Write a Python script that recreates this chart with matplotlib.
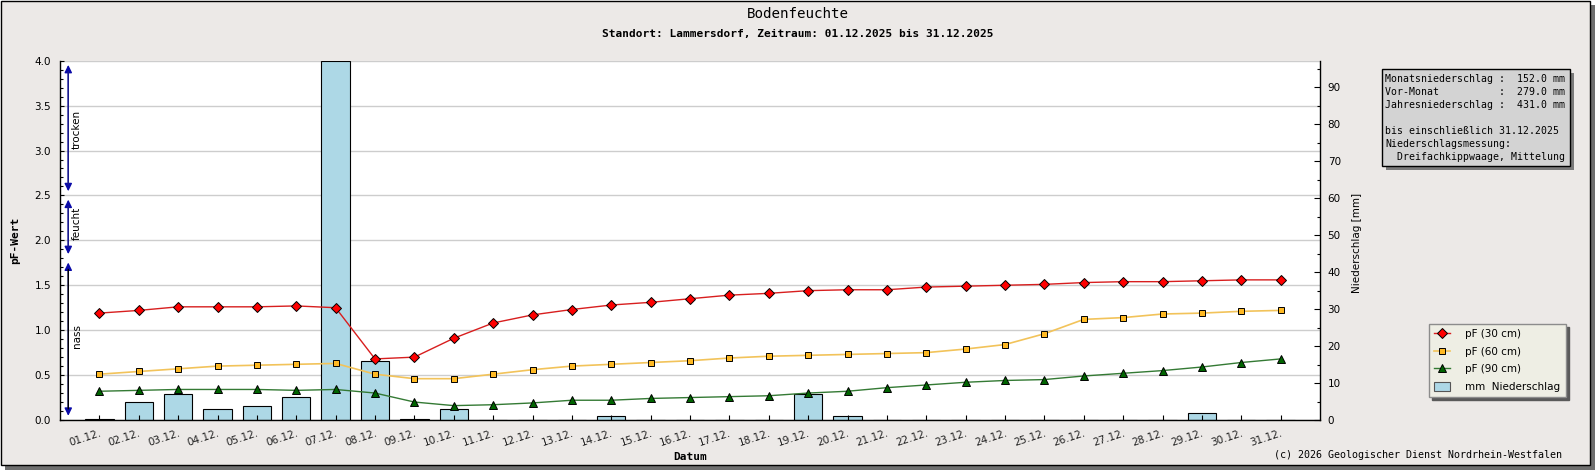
import matplotlib
matplotlib.use('Agg')
import matplotlib.pyplot as plt
import numpy as np
from matplotlib.patches import Rectangle
from matplotlib.ticker import MultipleLocator

# ---------------- data ----------------
dates = [f"{d:02d}.12." for d in range(1, 32)]
pf_30cm = [1.19, 1.22, 1.26, 1.26, 1.26, 1.27, 1.25, 0.68, 0.70, 0.91, 1.08, 1.17, 1.23, 1.28, 1.31, 1.35,
           1.39, 1.41, 1.44, 1.45, 1.45, 1.48, 1.49, 1.50, 1.51, 1.53, 1.54, 1.54, 1.55, 1.56, 1.56]
pf_60cm = [0.51, 0.54, 0.57, 0.60, 0.61, 0.62, 0.63, 0.51, 0.46, 0.46, 0.51, 0.56, 0.60, 0.62, 0.64, 0.66,
           0.69, 0.71, 0.72, 0.73, 0.74, 0.75, 0.79, 0.84, 0.96, 1.12, 1.14, 1.18, 1.19, 1.21, 1.22]
pf_90cm = [0.32, 0.33, 0.34, 0.34, 0.34, 0.33, 0.34, 0.30, 0.20, 0.16, 0.17, 0.19, 0.22, 0.22, 0.24, 0.25,
           0.26, 0.27, 0.30, 0.32, 0.36, 0.39, 0.42, 0.44, 0.45, 0.49, 0.52, 0.55, 0.59, 0.64, 0.68]
precip_mm = [0.3, 4.8, 7.0, 2.9, 3.7, 6.1, 97.1, 15.9, 0.2, 2.9, 0.0, 0.0, 0.0, 1.1, 0.0, 0.0,
             0.0, 0.0, 7.0, 1.0, 0.0, 0.0, 0.0, 0.0, 0.0, 0.0, 0.0, 0.0, 1.8, 0.0, 0.0]
series_labels = ['pF (30 cm)', 'pF (60 cm)', 'pF (90 cm)', 'mm  Niederschlag']
zone_names = ['trocken', 'feucht', 'nass']
zone_bounds = [(2.5, 4.0), (1.8, 2.5), (0.0, 1.8)]
zone_text_y = [3.23, 2.19, 0.93]
info_lines = ['Monatsniederschlag :  152.0 mm',
              'Vor-Monat          :  279.0 mm',
              'Jahresniederschlag :  431.0 mm',
              '',
              'bis einschließlich 31.12.2025',
              'Niederschlagsmessung:',
              '  Dreifachkippwaage, Mittelung']
title = 'Bodenfeuchte'
subtitle = 'Standort: Lammersdorf, Zeitraum: 01.12.2025 bis 31.12.2025'
copyright_txt = '(c) 2026 Geologischer Dienst Nordrhein-Westfalen'

# ---------------- layout ----------------
W, H = 1595, 470
BG = '#ece9e7'
MONO = 'DejaVu Sans Mono'
SANS = 'DejaVu Sans'

fig = plt.figure(figsize=(W / 100, H / 100), dpi=100)
fig.patch.set_facecolor('white')


def px_rect(x0, y0, x1, y1):
    return (x0 / W, 1 - y1 / H, (x1 - x0) / W, (y1 - y0) / H)


# outer frame with shadow
fig.add_artist(Rectangle((5 / W, 0), 1 - 5 / W, (H - 5) / H, transform=fig.transFigure,
                         facecolor='#6f6f6f', edgecolor='none', zorder=-10))
fig.add_artist(Rectangle((0.6 / W, 5 / H), 1589.4 / W, (H - 5.6) / H, transform=fig.transFigure,
                         facecolor=BG, edgecolor='black', lw=1.0, zorder=-9))

x = np.arange(len(dates))
rect = px_rect(60, 60.7, 1320, 420)

# grid layer
axg = fig.add_axes(rect, zorder=0)
axg.set_facecolor('white')
axg.set_xlim(-1, len(dates))
axg.set_ylim(0, 4)
axg.yaxis.set_major_locator(MultipleLocator(0.5))
axg.grid(axis='y', color='#cdcdcd', lw=1.0)
axg.tick_params(left=False, bottom=False, labelleft=False, labelbottom=False)
for s in axg.spines.values():
    s.set_visible(False)

# bar layer (right axis, mm)
axb = fig.add_axes(rect, zorder=1, sharex=axg)
axb.patch.set_visible(False)
bars = axb.bar(x, precip_mm, width=0.72, color='#add8e6', edgecolor='black', lw=0.8)
axb.set_ylim(0, 97.2)
axb.yaxis.tick_right()
axb.yaxis.set_major_locator(MultipleLocator(10))
axb.yaxis.set_minor_locator(MultipleLocator(5))
axb.tick_params(axis='y', which='major', direction='in', length=4, width=0.8, pad=5.5,
                labelsize=7.5, colors='black', right=True, left=False, labelright=True, labelleft=False)
axb.tick_params(axis='y', which='minor', direction='in', length=2.4, width=0.8, right=True, left=False)
axb.tick_params(axis='x', bottom=False, labelbottom=False)
for k, s in axb.spines.items():
    s.set_visible(k == 'right')
axb.spines['right'].set_linewidth(1.0)

# line layer (left axis, pF)
ax = fig.add_axes(rect, zorder=2, sharex=axg)
ax.patch.set_visible(False)
ax.set_ylim(0, 4)
l30, = ax.plot(x, pf_30cm, color='#d81e1e', lw=1.0, marker='D', ms=5.6, mfc='#ff0000',
               mec='black', mew=0.7, label=series_labels[0])
l60, = ax.plot(x, pf_60cm, color='#f2c35a', lw=1.2, marker='s', ms=5.0, mfc='#ffb923',
               mec='black', mew=0.7, label=series_labels[1])
l90, = ax.plot(x, pf_90cm, color='#347a34', lw=1.0, marker='^', ms=5.8, mfc='#006400',
               mec='black', mew=0.7, label=series_labels[2])
ax.yaxis.set_major_locator(MultipleLocator(0.5))
ax.yaxis.set_minor_locator(MultipleLocator(0.1))
ax.yaxis.set_major_formatter(matplotlib.ticker.FormatStrFormatter('%.1f'))
ax.tick_params(axis='y', which='major', direction='in', length=2.8, width=0.8, pad=6.5,
               labelsize=7.5, colors='black')
ax.tick_params(axis='y', which='minor', direction='in', length=2.0, width=0.8)
ax.set_xticks(x)
ax.set_xticklabels(dates, rotation=18, ha='right', rotation_mode='anchor', fontsize=7.5,
                   color='#222222')
ax.tick_params(axis='x', direction='in', length=3.6, width=0.8, pad=6)
for k, s in ax.spines.items():
    s.set_visible(k in ('left', 'bottom'))
    s.set_linewidth(1.0)
ax.set_xlim(-1, len(dates))

# moisture zones on left
zx = -0.79
for (lo, hi), name, ty in zip(zone_bounds, zone_names, zone_text_y):
    col = '#000000' if name == 'nass' else '#1b1b8a'
    ax.annotate('', xy=(zx, hi), xytext=(zx, lo),
                arrowprops=dict(arrowstyle='<|-|>,head_length=0.45,head_width=0.22',
                                color='#0a0aa8', lw=1.0, shrinkA=3, shrinkB=3))
    ax.annotate('', xy=(zx, hi), xytext=(zx, lo),
                arrowprops=dict(arrowstyle='-', color=col, lw=1.0, shrinkA=8, shrinkB=8))
    ax.text(zx + 0.215, ty, name, rotation=90, ha='center', va='center', fontsize=7.5,
            family=SANS, color='black')

# titles and labels
fig.text(798 / W, 1 - 14.3 / H, title, ha='center', va='center', family=MONO, fontsize=10.2)
fig.text(798 / W, 1 - 34 / H, subtitle, ha='center', va='center', family=MONO,
         fontweight='bold', fontsize=8)
fig.text(15 / W, 1 - 240 / H, 'pF-Wert', rotation=90, ha='center', va='center', family=MONO,
         fontweight='bold', fontsize=8)
fig.text(1357 / W, 1 - 243 / H, 'Niederschlag [mm]', rotation=90, ha='center', va='center',
         family=SANS, fontsize=7.5)
fig.text(690 / W, 1 - 457.3 / H, 'Datum', ha='center', va='center', family=MONO,
         fontweight='bold', fontsize=8)
fig.text(1562 / W, 1 - 455 / H, copyright_txt, ha='right', va='center', family=MONO, fontsize=7.2)

# info box
fig.add_artist(Rectangle(px_rect(1386, 73, 1574, 170)[:2], 188 / W, 97 / H, transform=fig.transFigure,
                         facecolor='#7a7a7a', edgecolor='none', zorder=3))
fig.add_artist(Rectangle(px_rect(1382, 69, 1570, 166)[:2], 188 / W, 97 / H, transform=fig.transFigure,
                         facecolor='#d3d3d3', edgecolor='black', lw=1.0, zorder=4))
for i, line in enumerate(info_lines):
    fig.text(1385 / W, 1 - (79.3 + 13 * i) / H, line, ha='left', va='center', family=MONO,
             fontsize=7.1, zorder=5)

# legend
leg = ax.legend(handles=[l30, l60, l90, bars], labels=series_labels, loc='upper left',
                bbox_to_anchor=(1429 / W, 1 - 324 / H), bbox_transform=fig.transFigure,
                frameon=True, fancybox=False, edgecolor='#8c8c8c', facecolor='#eeeee4', framealpha=1,
                shadow={'color': '#5a5a5a', 'alpha': 1}, fontsize=7.5, handlelength=1.5,
                handleheight=1.0, handletextpad=1.5, borderpad=0.5, labelspacing=0.7,
                borderaxespad=0)
leg.get_frame().set_linewidth(1.0)
for h in leg.legend_handles[3:]:
    h.set_edgecolor('#555555')

fig.savefig('out.png', dpi=100, facecolor=fig.get_facecolor())
